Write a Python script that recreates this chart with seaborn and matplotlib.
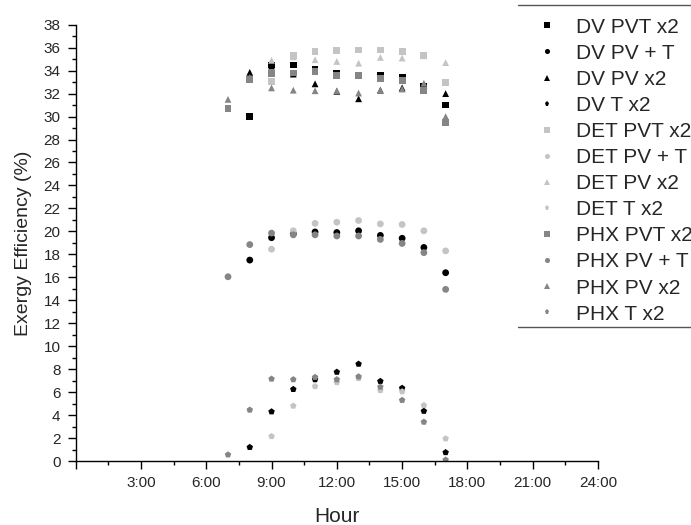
import matplotlib
matplotlib.use("Agg")
import matplotlib.pyplot as plt
from matplotlib.lines import Line2D
import seaborn as sns
import pandas as pd
import numpy as np

# hours of the day for each series
hours_7 = [7, 8, 9, 10, 11, 12, 13, 14, 15, 16, 17]
hours_8 = [8, 9, 10, 11, 12, 13, 14, 15, 16, 17]
hours_9 = [9, 10, 11, 12, 13, 14, 15, 16, 17]

# DV
dv_pvt_x2 = [30.0, 34.5, 34.5, 34.1, 33.75, 33.6, 33.55, 33.4, 32.6, 31.0]
dv_pv_t = [17.5, 19.45, 19.8, 19.95, 19.9, 20.05, 19.65, 19.4, 18.6, 16.4]
dv_pv_x2 = [33.85, 34.4, 33.7, 32.85, 32.2, 31.55, 32.3, 32.5, 32.7, 32.0]
dv_t_x2 = [1.2, 4.3, 6.25, 7.1, 7.75, 8.45, 6.95, 6.35, 4.35, 0.75]

# DET
det_pvt_x2 = [33.05, 35.3, 35.7, 35.75, 35.8, 35.8, 35.7, 35.3, 33.0]
det_pv_t = [18.45, 20.05, 20.7, 20.8, 20.95, 20.65, 20.6, 20.05, 18.3]
det_pv_x2 = [34.9, 35.2, 34.95, 34.8, 34.65, 35.15, 35.1, 35.3, 34.7]
det_t_x2 = [2.15, 4.8, 6.5, 6.85, 7.2, 6.15, 6.05, 4.85, 1.95]

# PHX
phx_pvt_x2 = [30.7, 33.25, 33.75, 33.8, 33.9, 33.6, 33.55, 33.35, 33.15, 32.3, 29.5]
phx_pv_t = [16.05, 18.85, 19.85, 19.7, 19.7, 19.6, 19.6, 19.3, 18.95, 18.15, 14.95]
phx_pv_x2 = [31.5, 33.4, 32.5, 32.3, 32.25, 32.25, 32.05, 32.3, 32.4, 32.9, 30.0]
phx_t_x2 = [0.55, 4.45, 7.15, 7.1, 7.3, 7.1, 7.35, 6.45, 5.3, 3.4, 0.1]

series = [
    ("DV PVT x2", hours_8, dv_pvt_x2),
    ("DV PV + T", hours_8, dv_pv_t),
    ("DV PV x2", hours_8, dv_pv_x2),
    ("DV T x2", hours_8, dv_t_x2),
    ("DET PVT x2", hours_9, det_pvt_x2),
    ("DET PV + T", hours_9, det_pv_t),
    ("DET PV x2", hours_9, det_pv_x2),
    ("DET T x2", hours_9, det_t_x2),
    ("PHX PVT x2", hours_7, phx_pvt_x2),
    ("PHX PV + T", hours_7, phx_pv_t),
    ("PHX PV x2", hours_7, phx_pv_x2),
    ("PHX T x2", hours_7, phx_t_x2),
]

rows = []
for name, hrs, vals in series:
    for h, v in zip(hrs, vals):
        rows.append({"Hour": h, "Eff": v, "Series": name})
df = pd.DataFrame(rows)
order = [s[0] for s in series]

group_colors = {"DV": "#000000", "DET": "#c4c4c4", "PHX": "#858585"}
kind_markers = {"PVT x2": "s", "PV + T": "o", "PV x2": "^", "T x2": "p"}
palette = {}
markers = {}
for name in order:
    g, k = name.split(" ", 1)
    palette[name] = group_colors[g]
    markers[name] = kind_markers[k]

sns.set_style("ticks")
plt.rcParams["font.family"] = ["Liberation Sans", "DejaVu Sans"]

fig = plt.figure(figsize=(6.91, 5.25), dpi=100)
ax = fig.add_axes([0.1095, 0.1219, 0.7559, 0.831])

sns.scatterplot(data=df, x="Hour", y="Eff", hue="Series", style="Series",
                hue_order=order, style_order=order, palette=palette,
                markers=markers, s=24, linewidth=0, ax=ax)

ax.set_xlim(0, 24)
ax.set_ylim(0, 38)
ax.set_xticks(np.arange(0, 25, 3))
ax.set_xticklabels([""] + ["%d:00" % h for h in range(3, 25, 3)])
ax.set_xticks(np.arange(1.5, 24, 3), minor=True)
ax.set_yticks(np.arange(0, 39, 2))
ax.set_yticks(np.arange(1, 38, 2), minor=True)
ax.tick_params(axis="both", which="major", direction="out", length=6,
               width=1, labelsize=11, pad=5, color="black")
ax.tick_params(axis="both", which="minor", direction="out", length=3,
               width=1, color="black")
for sp in ["top", "right"]:
    ax.spines[sp].set_visible(False)
for sp in ["left", "bottom"]:
    ax.spines[sp].set_color("black")
    ax.spines[sp].set_linewidth(1)

ax.set_xlabel("Hour", fontsize=15, labelpad=12)
ax.set_ylabel("Exergy Efficiency (%)", fontsize=14, labelpad=8)

sns.move_legend(ax, loc="upper left", bbox_to_anchor=(514 / 691, 1 - 1 / 525),
                bbox_transform=fig.transFigure, frameon=False, title=None,
                fontsize=15, labelspacing=0.34, handletextpad=0.6,
                handlelength=1.6, borderpad=0.3, markerscale=0.75)

fig.add_artist(Line2D([518 / 691, 1], [1 - 5 / 525] * 2,
                      transform=fig.transFigure, color="#555555", lw=1))
fig.add_artist(Line2D([518 / 691, 1], [1 - 327 / 525] * 2,
                      transform=fig.transFigure, color="#555555", lw=1))

fig.savefig("out.png", dpi=100)
